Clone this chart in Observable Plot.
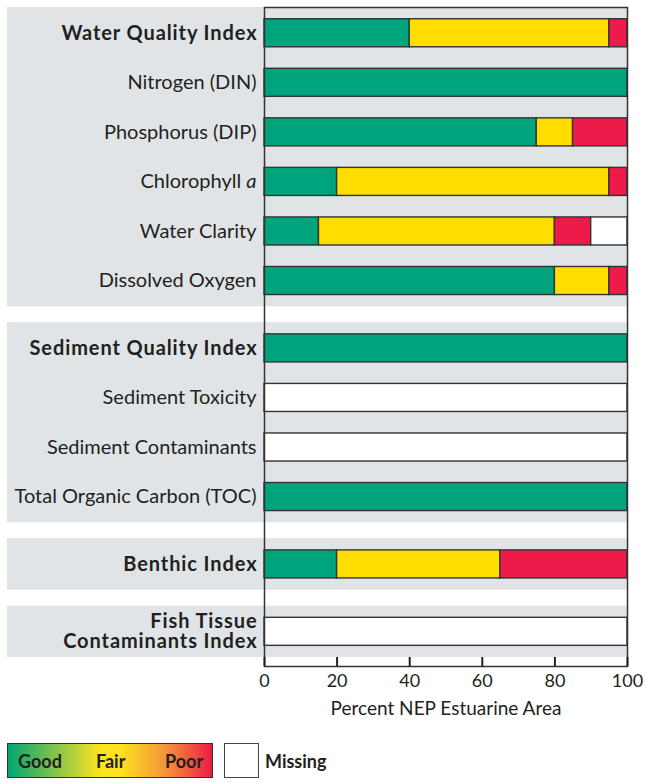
<!DOCTYPE html>
<html><head><meta charset="utf-8">
<script src="https://cdn.jsdelivr.net/npm/d3@7"></script>
<script src="https://cdn.jsdelivr.net/npm/@observablehq/plot@0.6"></script>
<style>
body{margin:0;background:#fff;font-family:Lato,sans-serif;color:#231F20;width:647px;}
#chart svg{display:block}
.legend{position:relative;height:36px;margin-top:26px;}
.grad{position:absolute;left:7px;top:0;width:204px;height:33px;border:1.5px solid #333;
 background:linear-gradient(to right,#00A66F 0%,#7FC14F 22%,#FCE520 45%,#FDE21E 55%,#F3913A 78%,#EA1D45 100%);}
.grad span,.misslabel{position:absolute;top:0;height:100%;display:flex;align-items:center;font-weight:700;font-size:18px;color:#231F20;}
.miss{position:absolute;left:224px;top:0;width:33px;height:33px;border:1.5px solid #444;background:#fff;}
.misslabel{left:265px;height:36px;}
</style></head><body>
<div id="chart"></div>
<div class="legend">
 <div class="grad"><span style="left:10px">Good</span><span style="left:88px">Fair</span><span style="left:157px">Poor</span></div>
 <div class="miss"></div><span class="misslabel">Missing</span>
</div>
<script>
// ---- data ----
const rows = ["Water Quality Index","Nitrogen (DIN)","Phosphorus (DIP)","Chlorophyll a","Water Clarity","Dissolved Oxygen",
  "Sediment Quality Index","Sediment Toxicity","Sediment Contaminants","Total Organic Carbon (TOC)",
  "Benthic Index","Fish Tissue\nContaminants Index"];
const groupOf = [0,0,0,0,0,0,1,1,1,1,2,3];
const isIndex = [true,false,false,false,false,false,true,false,false,false,true,true];
const good    = [40,100,75,20,15,80,100,0,0,100,20,0];
const fair    = [55,0,10,75,65,15,0,0,0,0,45,0];
const poor    = [5,0,15,5,10,5,0,0,0,0,35,0];
const missing = [0,0,0,0,10,0,0,100,100,0,0,100];
const categories = ["Good","Fair","Poor","Missing"];
const catColors = ["#00A57E","#FFDD00","#EE1A4A","#FFFFFF"];
const xTicks = [0,20,40,60,80,100];

// ---- derived layout ----
const GAP = 0.36, HALF = 0.283, PAD = 0.52;
const pos = rows.map((r,i) => i + groupOf[i]*GAP);
const rowData = rows.map((name,i) => ({name, pos: pos[i], bold: isIndex[i]}));
const segs = [];
rows.forEach((name,i) => {
  const vals = [good[i],fair[i],poor[i],missing[i]];
  let start = 0;
  vals.forEach((v,k) => { if (v > 0) { segs.push({name, pos: pos[i], cat: categories[k], x1: start, x2: start+v}); start += v; } });
});
const groups = d3.groups(rowData.map((d,i)=>({...d,g:groupOf[i]})), d=>d.g).map(([g,arr]) => ({
  top: d3.min(arr,d=>d.pos)-PAD, bottom: d3.max(arr,d=>d.pos)+PAD}));
const maxPos = d3.max(pos);

const ink = "#231F20";
const plot = Plot.plot({
  width: 647, height: 717,
  marginLeft: 264, marginRight: 20, marginTop: 7, marginBottom: 51,
  style: {fontFamily: "Lato, sans-serif", color: ink, background: "#fff"},
  x: {domain: [0,100]},
  y: {domain: [-PAD, maxPos + PAD + 0.18], reverse: true, axis: null},
  color: {domain: categories, range: catColors},
  marks: [
    Plot.rect(groups, {x1: () => 0, x2: () => 100, y1: "top", y2: "bottom", fill: "#E1E4E7", insetLeft: -257, insetRight: -1}),
    Plot.rect(segs, {x1: "x1", x2: "x2", y1: d => d.pos - HALF, y2: d => d.pos + HALF, fill: "cat", stroke: "#333", strokeWidth: 1.4}),
    Plot.text(rowData.filter(d => !d.bold), {x: () => 0, y: "pos", text: "name", textAnchor: "end", dx: -8, fontSize: 20, fill: ink}),
    Plot.text(rowData.filter(d => d.bold), {x: () => 0, y: "pos", text: "name", textAnchor: "end", dx: -7, fontSize: 20, fontWeight: "bold", fill: ink, lineHeight: 1.0}),
    Plot.frame({stroke: "#333", strokeWidth: 1.5}),
    Plot.axisX({ticks: xTicks, tickSize: -9, tickPadding: 17, tickFormat: d => String(d), fontSize: 18,
      label: "Percent NEP Estuarine Area", labelAnchor: "center", labelArrow: "none", strokeWidth: 2})
  ]
});
document.getElementById("chart").appendChild(plot);
// wider tracking for the bold index labels
d3.select(plot).selectAll("g[font-weight=bold] text").style("letter-spacing", "0.9px");
// axis label size
d3.select(plot).selectAll("text").filter(function(){ return this.textContent === "Percent NEP Estuarine Area"; })
  .attr("font-size", 19);
// italic "a" in Chlorophyll a
d3.select(plot).selectAll("text").filter(function(){ return this.textContent === "Chlorophyll a"; })
  .each(function(){ const t = d3.select(this); t.text("Chlorophyll "); t.append("tspan").attr("font-style","italic").text("a"); });
</script>
</body></html>
